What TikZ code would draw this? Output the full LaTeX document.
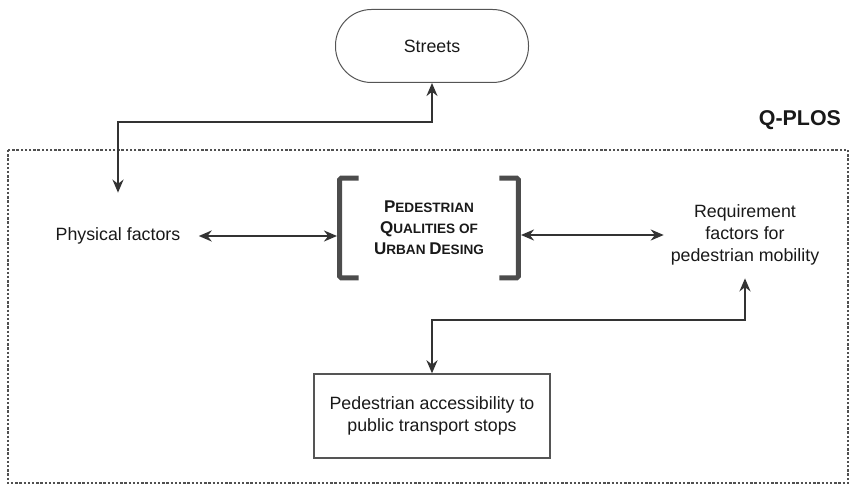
\documentclass[tikz,border=0pt]{standalone}
\usepackage{fontspec}
\setmainfont{Liberation Sans}
\usetikzlibrary{arrows.meta}
\definecolor{linegray}{HTML}{333333}
\definecolor{boxgray}{HTML}{555555}
\definecolor{dashgray}{HTML}{505050}
\newcommand{\qcap}[2]{{\fontsize{8.5}{10.5}\selectfont #1}#2}

\begin{document}
\begin{tikzpicture}[x=0.5pt, y=-0.5pt,
	every node/.style={font=\fontsize{8.9}{11}\selectfont, text=black!90},
	arr/.style={{Stealth[length=6.5pt,width=5.5pt]}-{Stealth[length=6.5pt,width=5.5pt]}, line width=1.15pt, draw=linegray},
	bracket/.style={line width=2.5pt, draw=black!70, rounded corners=0.8pt},
	box/.style={draw=boxgray, line width=0.7pt}]
	\useasboundingbox (0,0) rectangle (851,486);
	% Rahmen Q-PLOS
	\draw[dashgray, line width=0.8pt, dash pattern=on 1.2pt off 0.9pt] (8,150) rectangle (848,483);
	\node[anchor=east, font=\bfseries\fontsize{10.7}{12}\selectfont] (qplos) at (848,120) {Q-PLOS};
	% Knoten
	\node[box, line width=0.5pt, rounded corners=18pt, minimum width=96.5pt, minimum height=36.5pt] (streets) at (432,46) {Streets};
	\node[inner xsep=9pt] (physical) at (118,236) {Physical factors};
	\node[minimum width=89pt, minimum height=49.5pt, inner sep=0pt, align=center,
		font=\bfseries\fontsize{6.8}{10.5}\selectfont] (quality) at (429,228)
		{\qcap{P}{EDESTRIAN}\\\qcap{Q}{UALITIES} OF\\\qcap{U}{RBAN} \qcap{D}{ESING}};
	\node[align=center] (require) at (745,235) {Requirement\\factors for\\pedestrian mobility};
	\node[box, minimum width=118pt, minimum height=42pt, align=center] (access) at (432,416)
		{Pedestrian accessibility to\\public transport stops};
	% Klammern
	\draw[bracket] ([xshift=9.5pt]quality.north west) -- (quality.north west)
		-- (quality.south west) -- ([xshift=9.5pt]quality.south west);
	\draw[bracket] ([xshift=-9.5pt]quality.north east) -- (quality.north east)
		-- (quality.south east) -- ([xshift=-9.5pt]quality.south east);
	% Verbindungen
	\coordinate (upper) at (0,122);
	\coordinate (lower) at (0,320);
	\draw[arr] ([yshift=14pt]physical.north) -- (physical.north |- upper) -| (streets.south);
	\draw[arr, shorten >=1.3pt] (physical.east) -- (physical.east -| quality.west);
	\draw[arr, shorten <=1.3pt] (require.west -| quality.east) -- (require.west);
	\draw[arr] ([yshift=-3pt]require.south) -- (require.south |- lower) -| (access.north);
\end{tikzpicture}
\end{document}
